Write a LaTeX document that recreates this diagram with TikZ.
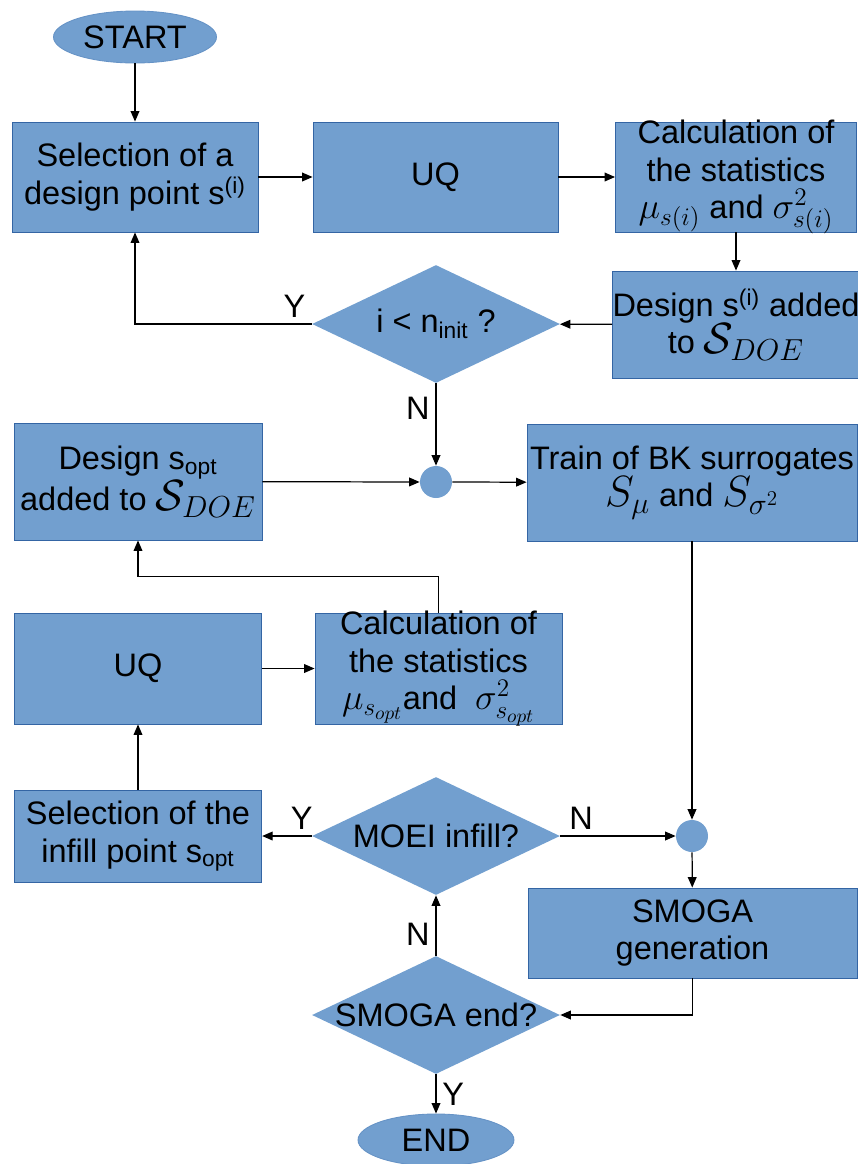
\documentclass[tikz,border=0pt]{standalone}
\usepackage[no-math]{fontspec}
\setmainfont{Liberation Sans}
\usetikzlibrary{shapes.geometric,arrows.meta}
\definecolor{BoxBlue}{RGB}{114,159,207}
\definecolor{EdgeBlue}{RGB}{52,101,164}
\newcommand{\mathlg}[1]{{\fontsize{25}{26}\selectfont$#1$}}
\newcommand{\mathmd}[1]{{\fontsize{21.5}{22}\selectfont$#1$}}
\newcommand{\dtxt}[1]{\makebox[0pt]{#1}}

\begin{document}
\begin{tikzpicture}[x=0.02cm,y=-0.02cm,
  font=\fontsize{18.5}{21.5}\selectfont,
  blk/.style={draw=EdgeBlue,fill=BoxBlue,line width=0.5pt,align=center,
              inner xsep=0pt,inner ysep=-2pt},
  dec/.style={diamond,fill=BoxBlue,inner sep=0pt,
              minimum width=4.96cm,minimum height=2.36cm},
  term/.style={ellipse,fill=BoxBlue,draw=BoxBlue!80!EdgeBlue,line width=0.5pt,
               minimum width=3.12cm,minimum height=1.04cm},
  junc/.style={circle,fill=BoxBlue,minimum size=0.64cm,inner sep=0pt},
  flow/.style={-{Triangle[length=6pt,width=5pt]},line width=0.7pt},
]
\useasboundingbox (0,0) rectangle (858,1164);

% initial design of experiments
\node[term] (start) at (135,37) {START};
\node[blk,minimum width=4.92cm,minimum height=2.2cm] (sel) at (135,177)
  {Selection of a\\design point s\textsuperscript{(i)}};
\node[blk,minimum width=4.9cm,minimum height=2.2cm] (uq1) at (435.5,177) {UQ};
\node[blk,minimum width=4.82cm,minimum height=2.2cm] (calc1) at (736,177)
  {Calculation of\\the statistics\\\mathmd{\mu_{s(i)}} and \mathmd{\sigma^2_{s(i)}}};
\node[blk,minimum width=4.84cm,minimum height=2.14cm] (added1) at (736,324.5)
  {Design s\textsuperscript{(i)} added\\to \mathlg{\mathcal{S}_{DOE}}};
\node[dec] (init) at (436,324) {\dtxt{i < n\textsubscript{init} ?}};
\node[junc] (join1) at (436,482) {};

% surrogate based optimisation
\node[blk,minimum width=4.96cm,minimum height=2.34cm] (added2) at (138,481.5)
  {Design s\textsubscript{opt}\\added to \mathlg{\mathcal{S}_{DOE}}};
\node[blk,minimum width=6.6cm,minimum height=2.34cm] (train) at (692,482.5)
  {Train of BK surrogates\\\mathlg{S_{\mu}} and \mathlg{S_{\sigma^2}}};
\node[blk,minimum width=4.95cm,minimum height=2.22cm] (uq2) at (138,668.5) {UQ};
\node[blk,minimum width=4.94cm,minimum height=2.22cm] (calc2) at (438.5,668.5)
  {Calculation of\\the statistics\\\mathmd{\mu_{s_{opt}}}and \ \mathmd{\sigma^2_{s_{opt}}}};
\node[blk,minimum width=4.95cm,minimum height=1.84cm] (selopt) at (138,836)
  {Selection of the\\infill point s\textsubscript{opt}};
\node[dec] (moei) at (436,836) {\dtxt{MOEI infill?}};
\node[junc] (join2) at (692,836) {};
\node[blk,minimum width=6.58cm,minimum height=1.8cm] (smoga) at (692.5,933)
  {SMOGA\\generation};
\node[dec] (smend) at (436,1015) {\dtxt{SMOGA end?}};
\node[term] (end) at (436,1140) {END};

% connectors
\draw[flow] (start) -- (sel);
\draw[flow] (sel) -- (uq1);
\draw[flow] (uq1) -- (calc1);
\draw[flow] (calc1) -- (added1);
\draw[flow] (added1) -- (init);
\draw[flow] (init.west) -| node[pos=0,above left] {Y} (sel.south);
\draw[flow] (init) -- node[pos=0.3,left] {N} (join1);
\draw[flow] (added2) -- (join1);
\draw[flow] (join1) -- (train);
\draw[flow] (calc2.north) -- ++(0,-36) -| (added2.south);
\draw[flow] (uq2) -- (calc2);
\draw[flow] (selopt) -- (uq2);
\draw[flow] (moei) -- node[pos=0.2,above] {Y} (selopt);
\draw[flow] (moei) -- node[pos=0.18,above] {N} (join2);
\draw[flow] (train) -- (join2);
\draw[flow] (join2) -- (smoga);
\draw[flow] (smoga.south) |- (smend.east);
\draw[flow] (smend) -- node[pos=0.35,left] {N} (moei);
\draw[flow] (smend) -- node[pos=0.5,right] {Y} (end);
\end{tikzpicture}
\end{document}
